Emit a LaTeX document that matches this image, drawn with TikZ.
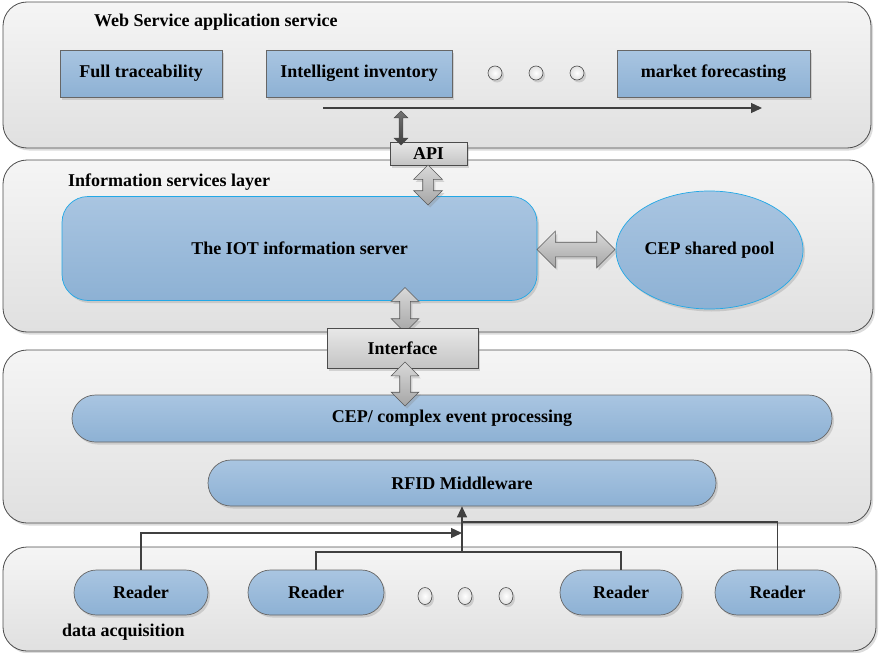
\documentclass[tikz,border=0pt]{standalone}
\usepackage{fontspec}
\setmainfont{Liberation Serif}
\usetikzlibrary{shapes.geometric,shapes.arrows,shapes.misc,shadows,arrows.meta}
\definecolor{panelTop}{HTML}{F5F5F5}
\definecolor{panelBot}{HTML}{E0E0E0}
\definecolor{blueTop}{HTML}{A9C5E1}
\definecolor{blueBot}{HTML}{8DB1D4}
\definecolor{cyanEdge}{HTML}{22A8E6}
\definecolor{grayTop}{HTML}{E8E8E8}
\definecolor{grayBot}{HTML}{C4C4C4}
\definecolor{lineCol}{HTML}{404040}
\begin{document}
\begin{tikzpicture}[x=1pt,y=-1pt,
  font=\bfseries\fontsize{18}{20}\selectfont,
  shd/.style={drop shadow={opacity=0.28,shadow xshift=2pt,shadow yshift=-2.5pt}},
  panel/.style={draw=black!70,line width=0.8pt,rounded corners=24pt,top color=panelTop,bottom color=panelBot,shd,inner sep=0pt},
  bluebox/.style={draw=black!60,line width=0.7pt,top color=blueTop,bottom color=blueBot,shd,inner sep=0pt},
  pill/.style={bluebox,rounded rectangle,rounded rectangle arc length=180},
  graybox/.style={draw=black!70,line width=0.7pt,top color=grayTop,bottom color=grayBot,shd,inner sep=0pt},
  dot/.style={circle,draw=black!70,line width=0.6pt,inner sep=0pt,minimum size=14pt,inner color=white,outer color=black!12,shd},
  dotv/.style={ellipse,draw=black!70,line width=0.6pt,inner sep=0pt,minimum width=14pt,minimum height=17pt,inner color=white,outer color=black!12,shd},
  bigarrow/.style={double arrow,draw=black!65,line width=0.6pt,top color=black!15,bottom color=black!35,inner xsep=0pt,shd},
  conn/.style={draw=lineCol,line width=1.3pt},
  lbl/.style={anchor=west,inner sep=0pt}
]
\useasboundingbox (0,0) rectangle (879,653);

% panels
\node[panel,minimum width=868pt,minimum height=146pt] (p1) at (437,75) {};
\node[panel,minimum width=870pt,minimum height=172pt] (p2) at (438,246) {};
\node[panel,minimum width=868pt,minimum height=173pt] (p3) at (437,436.5) {};
\node[panel,minimum width=873pt,minimum height=104pt] (p4) at (439.5,599) {};

% panel labels
\node[lbl] (l1) at (94,22.5) {Web Service application service};
\node[lbl] (l2) at (68,182.5) {Information services layer};
\node[lbl] (l4) at (62,632.5) {data acquisition};

% top layer
\node[bluebox,minimum width=162pt,minimum height=47pt] (ft) at (141,73.5) {Full traceability};
\node[bluebox,minimum width=186pt,minimum height=47pt] (ii) at (359,73.5) {Intelligent inventory};
\node[bluebox,minimum width=193pt,minimum height=47pt] (mf) at (713.5,73.5) {market forecasting};
\node[dot] (d1) at (495,73) {};
\node[dot] (d2) at (536,73) {};
\node[dot] (d3) at (577,73) {};
\coordinate (flowA) at (323,108);
\coordinate (flowB) at (762,108);
\draw[conn,-{Triangle[length=11pt,width=10pt]}] (flowA) -- (flowB);

% API
\node[graybox,minimum width=77pt,minimum height=23pt] (api) at (428.5,153.5) {API};
\node[double arrow,draw=black!70,line width=0.5pt,top color=black!55,bottom color=black!75,inner xsep=0pt,inner ysep=1.6pt,
  double arrow head extend=5pt,minimum height=34pt,rotate=90] (a0) at (401,128) {};

% information services layer
\node[bluebox,draw=cyanEdge,rounded corners=26pt,minimum width=475pt,minimum height=104pt] (iot) at (299.5,248.5) {The IOT information server};
\node[bluebox,draw=cyanEdge,ellipse,minimum width=187pt,minimum height=118pt] (pool) at (709.5,250) {CEP shared pool};
\node[bigarrow,inner ysep=7pt,double arrow head extend=11pt,minimum height=78pt] (a2) at (576,249.5) {};
\node[bigarrow,inner ysep=5pt,double arrow head extend=9pt,minimum height=40pt,rotate=90] (a1) at (428,185) {};
\node[bigarrow,inner ysep=5pt,double arrow head extend=8.5pt,minimum height=45pt,rotate=90] (a3) at (405,310) {};

% Interface
\node[graybox,minimum width=151pt,minimum height=40pt] (intf) at (402.5,348) {Interface};

% middleware layer
\node[pill,minimum width=760pt,minimum height=47pt] (cep) at (452,418.5) {CEP/ complex event processing};
\node[pill,minimum width=508pt,minimum height=46pt] (rfid) at (462,483) {RFID Middleware};
\node[bigarrow,inner ysep=5pt,double arrow head extend=8.5pt,minimum height=44pt,rotate=90] (a4) at (405,384) {};

% readers
\node[pill,minimum width=134pt,minimum height=45pt] (r1) at (141,592.5) {Reader};
\node[pill,minimum width=136pt,minimum height=45pt] (r2) at (316,592.5) {Reader};
\node[pill,minimum width=122pt,minimum height=45pt] (r3) at (621,592.5) {Reader};
\node[pill,minimum width=125pt,minimum height=45pt] (r4) at (777.5,592.5) {Reader};
\node[dotv] (e1) at (425,596) {};
\node[dotv] (e2) at (465,596) {};
\node[dotv] (e3) at (506,596) {};

% connectors
\coordinate (hub) at (462,552);
\coordinate (hub1) at (462,533);
\coordinate (hub4) at (462,522);
\draw[conn] (r2.north) |- (r3.north |- hub) -- (r3.north);
\draw[conn,-{Triangle[length=11pt,width=10pt]}] (hub) -- (rfid.south);
\draw[conn,-{Triangle[length=11pt,width=10pt]}] (r1.north) |- (hub1);
\draw[conn] (r4.north) |- (hub4);
\end{tikzpicture}
\end{document}
